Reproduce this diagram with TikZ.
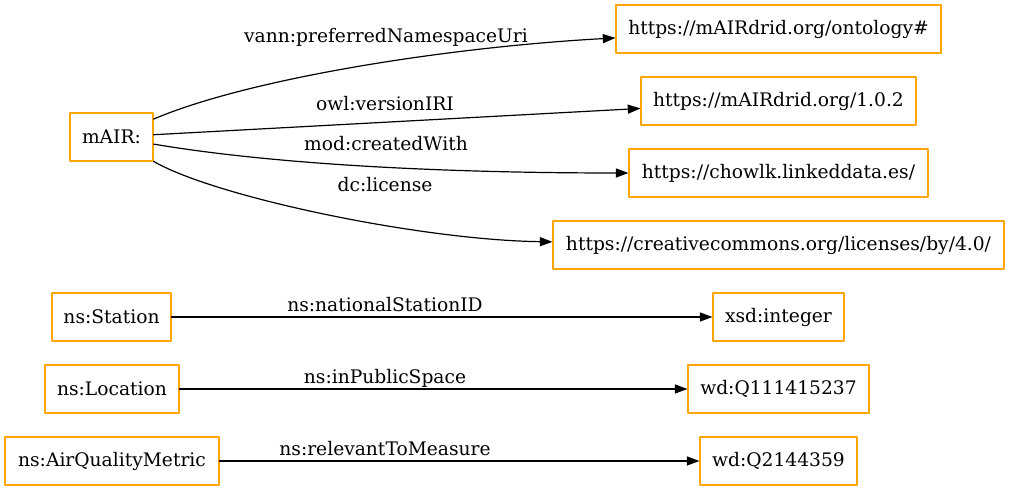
\documentclass[tikz,border=0pt]{standalone}
\usepackage{fontspec}
\setmainfont{DejaVu Serif}
\usepackage{tikz}
\usetikzlibrary{arrows.meta}
\definecolor{gvorange}{HTML}{FFA500}
\tikzset{
  term/.style={draw=gvorange, line width=0.8pt, minimum height=36pt, inner sep=0pt,
    font=\fontsize{14}{17}\selectfont},
  rel/.style={->, line width=0.9pt},
  prop/.style={anchor=base, inner sep=0pt, font=\fontsize{14}{17}\selectfont},
}

\begin{document}
\begin{tikzpicture}[x=0.75pt,y=-0.75pt,>={Triangle[length=9.5pt,width=6.8pt]},line cap=round,line join=round]
  \useasboundingbox (0,0) rectangle (1009,491);

  % ontology header
  \node[term, minimum width=62.25pt]  (mair)   at (111.5,137) {mAIR:};
  \node[term, minimum width=243.75pt] (ont)    at (778.5,29)  {https://mAIRdrid.org/ontology\#};
  \node[term, minimum width=206.25pt] (v102)   at (778.5,101) {https://mAIRdrid.org/1.0.2};
  \node[term, minimum width=224.25pt] (chowlk) at (778.5,173) {https://chowlk.linkeddata.es/};
  \node[term, minimum width=338.25pt] (cc)     at (778.5,245) {https://creativecommons.org/licenses/by/4.0/};

  \draw[rel] (mair) .. controls (250,78) and (450,47) .. (ont);
  \draw[rel] (mair) -- (v102);
  \draw[rel] (mair) .. controls (277,165) and (450,173) .. (chowlk);
  \draw[rel] (mair) .. controls (215,197) and (420,240) .. (cc);

  \node[prop] (vannlbl) at (386,43)    {vann:preferredNamespaceUri};
  \node[prop] (owllbl)  at (385,110.5) {owl:versionIRI};
  \node[prop] (modlbl)  at (386,150.5) {mod:createdWith};
  \node[prop] (dclbl)   at (385,191.5) {dc:license};

  % classes
  \node[term, minimum width=89.25pt]  (station)  at (111.5,317) {ns:Station};
  \node[term, minimum width=98.25pt]  (xsdint)   at (778.5,317) {xsd:integer};
  \node[term, minimum width=100.5pt]  (location) at (112,389)   {ns:Location};
  \node[term, minimum width=135.75pt] (wdspace)  at (778.5,389) {wd:Q111415237};
  \node[term, minimum width=160.5pt]  (metric)   at (112,461)   {ns:AirQualityMetric};
  \node[term, minimum width=117.75pt] (wdmeas)   at (778.5,461) {wd:Q2144359};

  \draw[rel] (station) -- (xsdint);
  \draw[rel] (location) -- (wdspace);
  \draw[rel] (metric) -- (wdmeas);

  \node[prop] (natlbl) at (385,311.5) {ns:nationalStationID};
  \node[prop] (publbl) at (385,383.5) {ns:inPublicSpace};
  \node[prop] (rellbl) at (385,455.5) {ns:relevantToMeasure};
\end{tikzpicture}
\end{document}
